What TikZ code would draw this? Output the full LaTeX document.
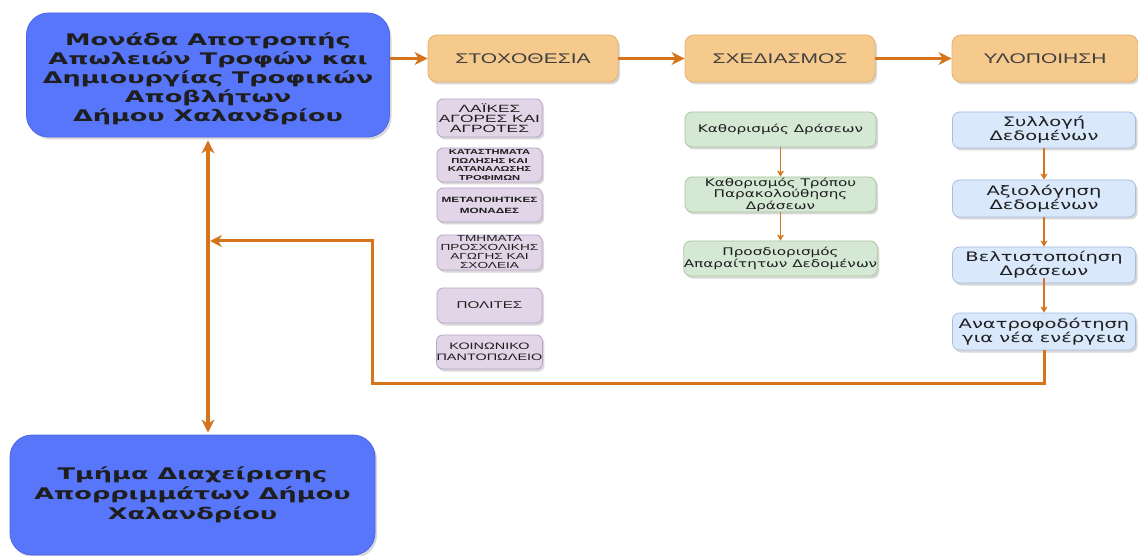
\documentclass[tikz,border=0pt]{standalone}
\usepackage{fontspec}
\setmainfont{DejaVu Sans}
\newfontfamily\bigf[FakeStretch=1.6]{DejaVu Sans Bold}
\newfontfamily\stf[FakeStretch=1.5]{Liberation Sans}
\newfontfamily\smf[FakeStretch=1.45]{DejaVu Sans}
\newfontfamily\blf[FakeStretch=1.5]{DejaVu Sans}
\newfontfamily\puf[FakeStretch=1.55]{Liberation Sans}
\newfontfamily\pug[FakeStretch=1.65]{Liberation Sans}
\usetikzlibrary{arrows.meta,shadows,calc}
\definecolor{bigblue}{RGB}{88,118,250}
\definecolor{bigborder}{RGB}{75,100,235}
\definecolor{arr}{RGB}{214,116,28}
\definecolor{stfill}{RGB}{246,201,140}
\definecolor{stdraw}{RGB}{230,176,110}
\definecolor{pufill}{RGB}{225,213,231}
\definecolor{pudraw}{RGB}{185,165,200}
\definecolor{grfill}{RGB}{213,232,212}
\definecolor{grdraw}{RGB}{170,200,160}
\definecolor{blfill}{RGB}{218,232,252}
\definecolor{bldraw}{RGB}{165,190,225}
\definecolor{txt}{RGB}{30,30,30}
\tikzset{
  shad/.style={drop shadow={shadow xshift=2pt,shadow yshift=-2.5pt,opacity=0.25,fill=black!60}},
  bigbox/.style={shad,rectangle,rounded corners=22pt,fill=bigblue,draw=bigborder,line width=0.8pt,
    minimum width=363pt},
  bigtext/.style={align=center,text=txt,inner sep=0pt},
  stagebox/.style={shad,rectangle,rounded corners=9pt,fill=stfill,draw=stdraw,line width=0.8pt,
    minimum width=190pt,minimum height=47pt,align=center,text=txt!85,font=\stf\fontsize{14}{16}\selectfont},
  pubox/.style={shad,rectangle,rounded corners=6pt,fill=pufill,draw=pudraw,line width=0.8pt,
    minimum width=105pt,minimum height=35pt,align=center,text=txt,inner sep=0pt},
  grbox/.style={shad,rectangle,rounded corners=7pt,fill=grfill,draw=grdraw,line width=0.8pt,
    minimum width=191pt,minimum height=35pt,align=center,text=txt,inner sep=0pt,
    font=\smf\fontsize{10.5}{11.5}\selectfont},
  blbox/.style={shad,rectangle,rounded corners=7pt,fill=blfill,draw=bldraw,line width=0.8pt,
    minimum width=183pt,minimum height=36pt,align=center,text=txt,inner sep=0pt,
    font=\blf\fontsize{13}{14}\selectfont},
  thickarr/.style={draw=arr,line width=3pt,-{Stealth[length=13pt,width=13pt,inset=4pt]}},
  smallarr/.style={draw=arr,line width=1.2pt,-{Stealth[length=6pt,width=7pt,inset=1.5pt]}},
}
\begin{document}
\begin{tikzpicture}[x=1pt,y=-1pt]
\useasboundingbox[fill=white] (0,0) rectangle (1138,556);

% big boxes
\node[bigbox,minimum height=124pt] (top) at (208,75) {};
\node[bigtext,font=\bigf\fontsize{16}{19}\selectfont] (toptxt) at (208,79)
  {Μονάδα Αποτροπής\\Απωλειών Τροφών και\\Δημιουργίας Τροφικών\\Αποβλήτων\\Δήμου Χαλανδρίου};
\node[bigbox,minimum width=365pt,minimum height=120pt] (bot) at (192.5,495) {};
\node[bigtext,font=\bigf\fontsize{16}{20}\selectfont] (bottxt) at (192.5,495)
  {Τμήμα Διαχείρισης\\Απορριμμάτων Δήμου\\Χαλανδρίου};

% stage boxes
\node[stagebox] (st1) at (523,58.5) {ΣΤΟΧΟΘΕΣΙΑ};
\node[stagebox] (st2) at (780,58.5) {ΣΧΕΔΙΑΣΜΟΣ};
\node[stagebox,minimum width=186pt] (st3) at (1045,58.5) {ΥΛΟΠΟΙΗΣΗ};

% purple boxes
\node[pubox,minimum height=38pt,font=\pug\fontsize{10.5}{10.2}\selectfont] (p1) at (489.5,118) {ΛΑΪΚΕΣ\\ΑΓΟΡΕΣ ΚΑΙ\\ΑΓΡΟΤΕΣ};
\node[pubox,minimum height=34pt,font=\puf\bfseries\fontsize{7.2}{8.4}\selectfont] (p2) at (489.5,165) {ΚΑΤΑΣΤΗΜΑΤΑ\\ΠΩΛΗΣΗΣ ΚΑΙ\\ΚΑΤΑΝΑΛΩΣΗΣ\\ΤΡΟΦΙΜΩΝ};
\node[pubox,minimum height=34pt,font=\puf\bfseries\fontsize{7.6}{11}\selectfont] (p3) at (489.5,205) {ΜΕΤΑΠΟΙΗΤΙΚΕΣ\\ΜΟΝΑΔΕΣ};
\node[pubox,minimum height=35pt,font=\puf\fontsize{8.8}{9}\selectfont] (p4) at (489.5,252.5) {ΤΜΗΜΑΤΑ\\ΠΡΟΣΧΟΛΙΚΗΣ\\ΑΓΩΓΗΣ ΚΑΙ\\ΣΧΟΛΕΙΑ};
\node[pubox,minimum height=35pt,font=\puf\fontsize{9.8}{11}\selectfont] (p5) at (489.5,305.5) {ΠΟΛΙΤΕΣ};
\node[pubox,minimum height=34pt,font=\puf\fontsize{9.3}{11}\selectfont] (p6) at (489.5,352) {ΚΟΙΝΩΝΙΚΟ\\ΠΑΝΤΟΠΩΛΕΙΟ};

% green boxes
\node[grbox] (g1) at (780.5,129.5) {Καθορισμός Δράσεων};
\node[grbox] (g2) at (780.5,194.5) {Καθορισμός Τρόπου\\Παρακολούθησης\\Δράσεων};
\node[grbox] (g3) at (780.5,258.5) {Προσδιορισμός\\Απαραίτητων Δεδομένων};

% blue boxes
\node[blbox] (b1) at (1044,130) {Συλλογή\\Δεδομένων};
\node[blbox,minimum height=37pt] (b2) at (1044,198.5) {Αξιολόγηση\\Δεδομένων};
\node[blbox] (b3) at (1044,265) {Βελτιστοποίηση\\Δράσεων};
\node[blbox,minimum height=37pt] (b4) at (1044,331.5) {Ανατροφοδότηση\\για νέα ενέργεια};

% connectors
\draw[thickarr] (top.east |- st1.west) -- (st1.west);
\draw[thickarr] (st1) -- (st2);
\draw[thickarr] (st2) -- (st3);
\draw[draw=arr,line width=3.5pt,{Stealth[length=13pt,width=13pt,inset=4pt]}-{Stealth[length=13pt,width=13pt,inset=4pt]},shorten <=3pt,shorten >=2pt] (top.south) -- (top.south |- bot.north);
\draw[smallarr] (g1) -- (g2);
\draw[smallarr] (g2) -- (g3);
\draw[smallarr] (b1) -- (b2);
\draw[smallarr] (b2) -- (b3);
\draw[smallarr] ([yshift=5pt]b3.south) -- (b4);
\coordinate (fbA) at (372,383);
\coordinate (join) at (210,241);
\draw[draw=arr,line width=3pt,-{Stealth[length=12pt,width=12pt,inset=4pt]}] (b4.south) |- (fbA) |- (join);
\end{tikzpicture}
\end{document}
